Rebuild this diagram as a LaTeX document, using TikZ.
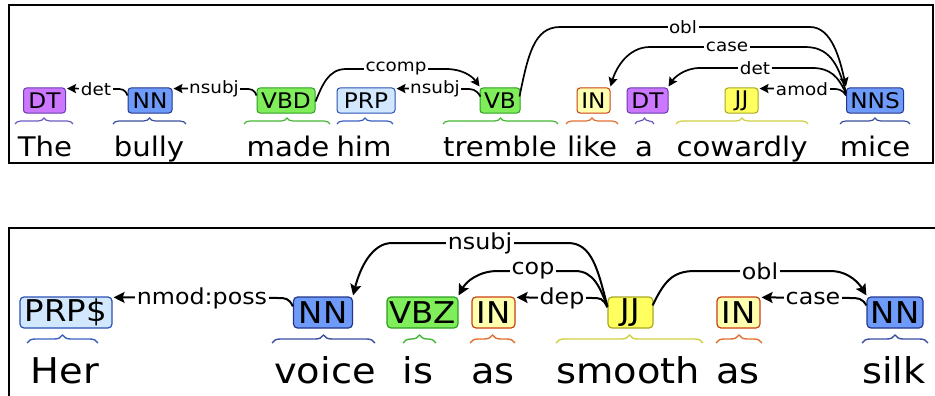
\documentclass[tikz,border=0pt]{standalone}
\usepackage{fontspec}
\setmainfont{DejaVu Sans}[FakeStretch=1.08]
\usetikzlibrary{arrows.meta,calc,decorations.pathreplacing}
\definecolor{dtF}{HTML}{CC77FF}\definecolor{dtB}{HTML}{6A3AB0}\definecolor{dtR}{HTML}{6A5AC0}
\definecolor{nnF}{HTML}{6E9BFA}\definecolor{nnB}{HTML}{22358A}\definecolor{nnR}{HTML}{3A4FA0}
\definecolor{vbF}{HTML}{80EE5A}\definecolor{vbB}{HTML}{2E9E22}\definecolor{vbR}{HTML}{44B834}
\definecolor{prF}{HTML}{D2E8FF}\definecolor{prB}{HTML}{2A4FB5}\definecolor{prR}{HTML}{3A5FC0}
\definecolor{inF}{HTML}{FFFFB0}\definecolor{inB}{HTML}{C84010}\definecolor{inR}{HTML}{E07030}
\definecolor{jjF}{HTML}{FFFF60}\definecolor{jjB}{HTML}{A8A820}\definecolor{jjR}{HTML}{D0D040}
\newcommand*\fwa{\fontsize{27}{27}\selectfont}
\newcommand*\fta{\fontsize{21.5}{21.5}\selectfont}
\newcommand*\fla{\fontsize{17}{17}\selectfont}
\newcommand*\fwb{\fontsize{35.5}{35.5}\selectfont}
\newcommand*\ftb{\fontsize{30}{30}\selectfont}
\newcommand*\flb{\fontsize{22}{22}\selectfont}
\tikzset{
  tagA/.style={draw, rounded corners=3pt, line width=1pt, minimum height=25pt, inner sep=0pt, font=\fta},
  tagB/.style={draw, rounded corners=4pt, line width=1.2pt, minimum height=31pt, inner sep=0pt, font=\ftb},
  wordA/.style={inner sep=0pt, anchor=base, font=\fwa},
  wordB/.style={inner sep=0pt, anchor=base, font=\fwb},
  arcA/.style={line width=1.7pt, -{Stealth[length=9pt,width=9pt,inset=1.5pt]}},
  arcB/.style={line width=2pt, -{Stealth[length=11pt,width=11pt,inset=2pt]}},
  lblA/.style={fill=white, inner xsep=1.5pt, inner ysep=0.5pt, font=\fla},
  lblB/.style={fill=white, inner xsep=2pt, inner ysep=0.5pt, font=\flb},
  brcA/.style={decorate, decoration={brace, amplitude=6pt}, line width=1.2pt},
  brcB/.style={decorate, decoration={brace, amplitude=8pt}, line width=1.4pt},
}
\begin{document}
\begin{tikzpicture}[x=1pt,y=-1pt]
\useasboundingbox (0,0) rectangle (935,396);
% frames
\draw[line width=1.8pt] (9,5) rectangle (933,163);
\draw[line width=1.6pt] (9,396) -- (9,228) -- (935,228);

% ---------- top sentence ----------
\node[tagA, fill=dtF, draw=dtB, minimum width=42pt] (t1) at (44.5,100.5) {DT};
\node[tagA, fill=nnF, draw=nnB, minimum width=44pt] (t2) at (150,100.5) {NN};
\node[tagA, fill=vbF, draw=vbB, minimum width=58pt] (t3) at (286,100.5) {VBD};
\node[tagA, fill=prF, draw=prB, minimum width=58pt] (t4) at (366,100.5) {PRP};
\node[tagA, fill=vbF, draw=vbB, minimum width=40pt] (t5) at (500,100.5) {VB};
\node[tagA, fill=inF, draw=inB, minimum width=33pt] (t6) at (593.5,100.5) {IN};
\node[tagA, fill=dtF, draw=dtB, minimum width=41pt] (t7) at (647.5,100.5) {DT};
\node[tagA, fill=jjF, draw=jjB, minimum width=33pt] (t8) at (741.5,100.5) {JJ};
\node[tagA, fill=nnF, draw=nnB, minimum width=57pt] (t9) at (875,100.5) {NNS};

\node[wordA] (w1) at (45,156) {The};
\node[wordA] (w2) at (149,156) {bully};
\node[wordA] (w3) at (288,156) {made};
\node[wordA] (w4) at (364,156) {him};
\node[wordA] (w5) at (500,156) {tremble};
\node[wordA] (w6) at (592,156) {like};
\node[wordA] (w7) at (644,156) {a};
\node[wordA] (w8) at (742,156) {cowardly};
\node[wordA] (w9) at (875,156) {mice};

\draw[brcA, dtR] (15,124) -- (73,124);
\draw[brcA, nnR] (113,124) -- (186,124);
\draw[brcA, vbR] (244,124) -- (330,124);
\draw[brcA, prR] (337,124) -- (393,124);
\draw[brcA, vbR] (443,124) -- (558,124);
\draw[brcA, inR] (566,124) -- (618,124);
\draw[brcA, dtR] (635,124) -- (654,124);
\draw[brcA, jjR] (676,124) -- (808,124);
\draw[brcA, nnR] (840,124) -- (910,124);

% arcs top
\draw[arcA] ($(t2.north west)+(0,8)$) .. controls (125,89) and (122,89) .. (116,89) -- ($(t1.north east)+(1,1)$);
\draw[arcA] ($(t3.north west)+(0,8)$) .. controls (254,89) and (251,89) .. (245,89) -- ($(t2.north east)+(1,1)$);
\draw[arcA] ($(t3.north east)+(0,14)$) .. controls (322,86) and (328,69) .. (346,69) -- (446,69) .. controls (462,69) and (472,76) .. ($(t5.north west)+(0,-1)$);
\draw[arcA] ($(t5.north west)+(1,9)$) .. controls (476,89) and (472,89) .. (466,89) -- ($(t4.north east)+(1,1)$);
\draw[arcA] ($(t5.north east)+(-1,9)$) .. controls (528,55) and (534,27) .. (560,27) -- (810,27) .. controls (832,27) and (840,60) .. ($(t9.north west)+(0,-1)$);
\draw[arcA] ($(t9.north west)+(0,5)$) .. controls (838,62) and (828,47) .. (805,47) -- (650,47) .. controls (628,47) and (616,68) .. ($(t6.north east)+(0,-1)$);
\draw[arcA] ($(t9.north west)+(0,6)$) .. controls (838,76) and (830,68) .. (812,68) -- (700,68) .. controls (684,68) and (674,78) .. ($(t7.north east)+(0,-1)$);
\draw[arcA] ($(t9.north west)+(0,8)$) .. controls (842,89) and (838,89) .. (832,89) -- ($(t8.north east)+(1,1)$);

\node[lblA] (la1) at (96,89) {det};
\node[lblA] (la2) at (214,89) {nsubj};
\node[lblA] (la3) at (396,69) {ccomp};
\node[lblA] (la4) at (435,89) {nsubj};
\node[lblA] (la5) at (683,27) {obl};
\node[lblA] (la6) at (727,47) {case};
\node[lblA] (la7) at (755,68) {det};
\node[lblA] (la8) at (802,89) {amod};

% ---------- bottom sentence ----------
\node[tagB, fill=prF, draw=prB, minimum width=92pt] (b1) at (66,312.5) {PRP\$};
\node[tagB, fill=nnF, draw=nnB, minimum width=59pt] (b2) at (323,312.5) {NN};
\node[tagB, fill=vbF, draw=vbB, minimum width=71pt] (b3) at (422.5,312.5) {VBZ};
\node[tagB, fill=inF, draw=inB, minimum width=43pt] (b4) at (493.5,312.5) {IN};
\node[tagB, fill=jjF, draw=jjB, minimum width=45pt] (b5) at (630.5,312.5) {JJ};
\node[tagB, fill=inF, draw=inB, minimum width=43pt] (b6) at (738.5,312.5) {IN};
\node[tagB, fill=nnF, draw=nnB, minimum width=56pt] (b7) at (895,312.5) {NN};

\node[wordB] (v1) at (65,383) {Her};
\node[wordB] (v2) at (325,383) {voice};
\node[wordB] (v3) at (418,383) {is};
\node[wordB] (v4) at (493,383) {as};
\node[wordB] (v5) at (628,383) {smooth};
\node[wordB] (v6) at (738,383) {as};
\node[wordB] (v7) at (894,383) {silk};

\draw[brcB, prR] (27,343) -- (98,343);
\draw[brcB, nnR] (272,343) -- (375,343);
\draw[brcB, vbR] (403,343) -- (436,343);
\draw[brcB, inR] (470,343) -- (515,343);
\draw[brcB, jjR] (556,343) -- (703,343);
\draw[brcB, inR] (716,343) -- (762,343);
\draw[brcB, nnR] (862,343) -- (928,343);

% arcs bottom
\draw[arcB] ($(b2.north west)+(0,10)$) .. controls (289,298) and (285,298) .. (278,298) -- ($(b1.north east)+(1,1)$);
\draw[arcB] ($(b5.north west)+(0,10)$) .. controls (598,270) and (592,243) .. (568,243) -- (392,243) .. controls (372,243) and (360,268) .. ($(b2.north east)+(0,-1)$);
\draw[arcB] ($(b5.north west)+(0,10)$) .. controls (600,288) and (594,271) .. (575,271) -- (498,271) .. controls (478,271) and (466,282) .. ($(b3.north east)+(0,-1)$);
\draw[arcB] ($(b5.north west)+(0,11)$) .. controls (603,298) and (600,298) .. (592,298) -- ($(b4.north east)+(1,1)$);
\draw[arcB] ($(b5.north east)+(-1,9)$) .. controls (664,282) and (672,271) .. (695,271) -- (830,271) .. controls (850,271) and (860,285) .. ($(b7.north west)+(0,-1)$);
\draw[arcB] ($(b7.north west)+(0,9)$) .. controls (862,298) and (858,298) .. (850,298) -- ($(b6.north east)+(1,1)$);

\node[lblB] (lb1) at (202,298) {nmod:poss};
\node[lblB] (lb2) at (480,243) {nsubj};
\node[lblB] (lb3) at (533,271) {cop};
\node[lblB] (lb4) at (562,298) {dep};
\node[lblB] (lb5) at (760,271) {obl};
\node[lblB] (lb6) at (813,298) {case};
\end{tikzpicture}
\end{document}
